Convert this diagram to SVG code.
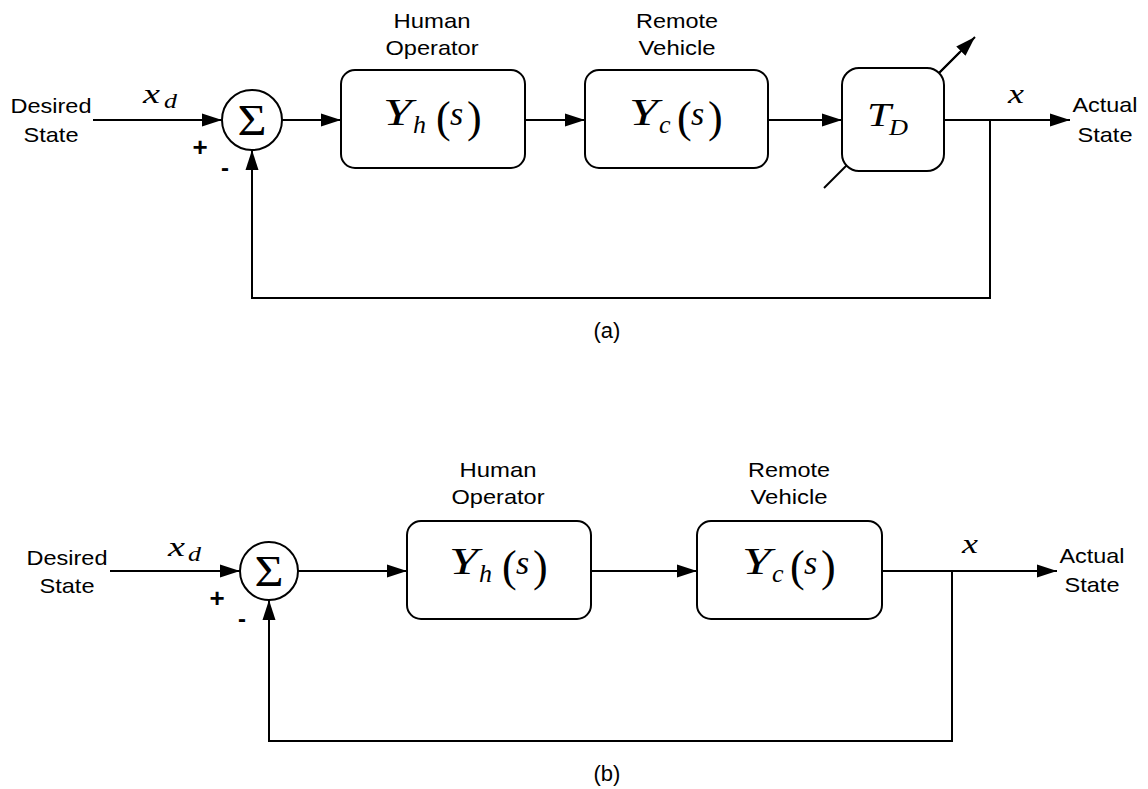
<svg xmlns="http://www.w3.org/2000/svg" width="1148" height="789" viewBox="0 0 1148 789">
<defs>
<marker id="ah" markerUnits="userSpaceOnUse" markerWidth="20" markerHeight="14" refX="20" refY="7" orient="auto">
<path d="M0,0.5 L20,7 L0,13.5 z" fill="#000"/>
</marker>
<style>
.ln{stroke:#000;stroke-width:2;fill:none}
.arr{stroke:#000;stroke-width:2;fill:none;marker-end:url(#ah)}
.box{stroke:#000;stroke-width:2;fill:#fff}
.lab{font-family:"Liberation Sans",Arial,sans-serif;font-size:21px;fill:#000}
.sg{font-family:"Liberation Sans",Arial,sans-serif;font-weight:bold;fill:#000;text-anchor:middle}
.mid{text-anchor:middle}
.mi{font-family:"Liberation Serif","Times New Roman",serif;font-style:italic;fill:#000}
.mr{font-family:"Liberation Serif","Times New Roman",serif;fill:#000}
</style>
</defs>
<rect width="1148" height="789" fill="#fff"/>
<g id="connectors">
<line class="ln" x1="824" y1="188" x2="960" y2="52"/>
<line class="arr" x1="930" y1="82" x2="975" y2="37"/>
<line class="arr" x1="93" y1="120" x2="222" y2="120"/>
<line class="arr" x1="282" y1="120" x2="341" y2="120"/>
<line class="arr" x1="525" y1="120" x2="585" y2="120"/>
<line class="arr" x1="768" y1="120" x2="842" y2="120"/>
<line class="arr" x1="944" y1="120" x2="1070" y2="120"/>
<path class="arr" d="M990,120 V298 H252 V150"/>
<line class="arr" x1="110" y1="571" x2="240" y2="571"/>
<line class="arr" x1="298" y1="571" x2="407" y2="571"/>
<line class="arr" x1="591" y1="571" x2="697" y2="571"/>
<line class="arr" x1="882" y1="571" x2="1057" y2="571"/>
<path class="arr" d="M952,571 V741 H269 V600"/>
</g>
<g id="sum-a">
<circle class="box" cx="252" cy="120" r="30"/>
<text class="mr mid" x="252" y="135" font-size="44" textLength="29" lengthAdjust="spacingAndGlyphs">Σ</text>
</g>
<g id="yh-a">
<rect class="box" x="341" y="70" width="184" height="98" rx="14"/>
<text class="mi" x="383" y="125" font-size="37" textLength="29" lengthAdjust="spacingAndGlyphs">Y</text>
<text class="mi" x="413" y="133" font-size="26">h</text>
<text class="mr" x="436" y="132" font-size="44">(</text>
<text class="mi" x="450" y="125" font-size="34">s</text>
<text class="mr" x="467" y="132" font-size="44">)</text>
</g>
<g id="yc-a">
<rect class="box" x="585" y="70" width="183" height="98" rx="14"/>
<text class="mi" x="629" y="125" font-size="37" textLength="29" lengthAdjust="spacingAndGlyphs">Y</text>
<text class="mi" x="659" y="133" font-size="26">c</text>
<text class="mr" x="677" y="132" font-size="44">(</text>
<text class="mi" x="691" y="125" font-size="34">s</text>
<text class="mr" x="708" y="132" font-size="44">)</text>
</g>
<g id="td-a">
<rect class="box" x="842" y="68" width="102" height="103" rx="17"/>
<text class="mi" x="867" y="126" font-size="33" textLength="24" lengthAdjust="spacingAndGlyphs">T</text>
<text class="mi" x="889" y="135" font-size="23" textLength="19" lengthAdjust="spacingAndGlyphs">D</text>
</g>
<g id="labels-a">
<text class="lab mid" x="51" y="113" textLength="81" lengthAdjust="spacingAndGlyphs">Desired</text>
<text class="lab mid" x="51" y="142" textLength="55" lengthAdjust="spacingAndGlyphs">State</text>
<text class="lab mid" x="1105" y="112" textLength="65" lengthAdjust="spacingAndGlyphs">Actual</text>
<text class="lab mid" x="1105" y="142" textLength="55" lengthAdjust="spacingAndGlyphs">State</text>
<text class="lab mid" x="432" y="28" textLength="77" lengthAdjust="spacingAndGlyphs">Human</text>
<text class="lab mid" x="432" y="55" textLength="93" lengthAdjust="spacingAndGlyphs">Operator</text>
<text class="lab mid" x="677" y="28" textLength="82" lengthAdjust="spacingAndGlyphs">Remote</text>
<text class="lab mid" x="677" y="55" textLength="77" lengthAdjust="spacingAndGlyphs">Vehicle</text>
<text class="mi" x="143" y="103" font-size="28" textLength="17" lengthAdjust="spacingAndGlyphs">x</text>
<text class="mi" x="164" y="108" font-size="22" textLength="13" lengthAdjust="spacingAndGlyphs">d</text>
<text class="mi" x="1008" y="103" font-size="28" textLength="16" lengthAdjust="spacingAndGlyphs">x</text>
<text class="sg" x="200" y="156" font-size="26">+</text>
<text class="sg" x="225" y="176" font-size="24">-</text>
<text class="lab mid" x="607" y="338" style="font-size:22px">(a)</text>
</g>
<g id="sum-b">
<circle class="box" cx="269" cy="571" r="29"/>
<text class="mr mid" x="269" y="586" font-size="44" textLength="29" lengthAdjust="spacingAndGlyphs">Σ</text>
</g>
<g id="yh-b">
<rect class="box" x="407" y="521" width="184" height="98" rx="14"/>
<text class="mi" x="449" y="574" font-size="37" textLength="29" lengthAdjust="spacingAndGlyphs">Y</text>
<text class="mi" x="479" y="582" font-size="26">h</text>
<text class="mr" x="502" y="581" font-size="44">(</text>
<text class="mi" x="516" y="574" font-size="34">s</text>
<text class="mr" x="533" y="581" font-size="44">)</text>
</g>
<g id="yc-b">
<rect class="box" x="697" y="521" width="185" height="98" rx="14"/>
<text class="mi" x="742" y="574" font-size="37" textLength="29" lengthAdjust="spacingAndGlyphs">Y</text>
<text class="mi" x="772" y="582" font-size="26">c</text>
<text class="mr" x="790" y="581" font-size="44">(</text>
<text class="mi" x="804" y="574" font-size="34">s</text>
<text class="mr" x="821" y="581" font-size="44">)</text>
</g>
<g id="labels-b">
<text class="lab mid" x="67" y="565" textLength="81" lengthAdjust="spacingAndGlyphs">Desired</text>
<text class="lab mid" x="67" y="593" textLength="55" lengthAdjust="spacingAndGlyphs">State</text>
<text class="lab mid" x="1092" y="563" textLength="65" lengthAdjust="spacingAndGlyphs">Actual</text>
<text class="lab mid" x="1092" y="592" textLength="55" lengthAdjust="spacingAndGlyphs">State</text>
<text class="lab mid" x="498" y="477" textLength="77" lengthAdjust="spacingAndGlyphs">Human</text>
<text class="lab mid" x="498" y="504" textLength="93" lengthAdjust="spacingAndGlyphs">Operator</text>
<text class="lab mid" x="789" y="477" textLength="82" lengthAdjust="spacingAndGlyphs">Remote</text>
<text class="lab mid" x="789" y="504" textLength="77" lengthAdjust="spacingAndGlyphs">Vehicle</text>
<text class="mi" x="168" y="556" font-size="28" textLength="17" lengthAdjust="spacingAndGlyphs">x</text>
<text class="mi" x="188" y="561" font-size="22" textLength="13" lengthAdjust="spacingAndGlyphs">d</text>
<text class="mi" x="962" y="553" font-size="28" textLength="16" lengthAdjust="spacingAndGlyphs">x</text>
<text class="sg" x="217" y="607" font-size="26">+</text>
<text class="sg" x="242" y="627" font-size="24">-</text>
<text class="lab mid" x="607" y="781" style="font-size:22px">(b)</text>
</g>
</svg>
